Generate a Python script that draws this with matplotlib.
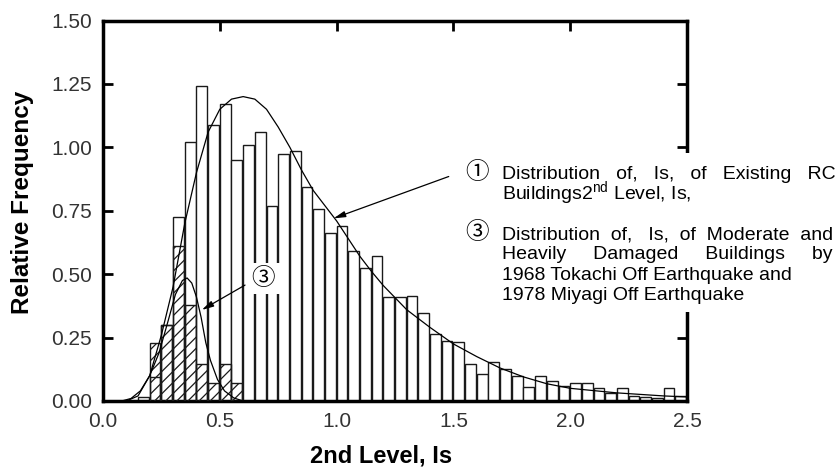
import matplotlib
matplotlib.use('Agg')
import matplotlib.pyplot as plt
from matplotlib.patches import Rectangle

plt.rcParams['font.family'] = ['Liberation Sans', 'Noto Sans CJK JP', 'DejaVu Sans']
plt.rcParams['mathtext.fontset'] = 'custom'
plt.rcParams['mathtext.rm'] = 'Liberation Sans'
plt.rcParams['mathtext.default'] = 'regular'
plt.rcParams['hatch.linewidth'] = 0.9

# Histograma de edificios existentes (inicio de cada intervalo, frecuencia)
bin_start = [0.15, 0.20, 0.25, 0.30, 0.35, 0.40, 0.45, 0.50, 0.55, 0.60,
             0.65, 0.70, 0.75, 0.80, 0.85, 0.90, 0.95, 1.00, 1.05, 1.10,
             1.15, 1.20, 1.25, 1.30, 1.35, 1.40, 1.45, 1.50, 1.55, 1.60,
             1.65, 1.70, 1.75, 1.80, 1.85, 1.90, 1.95, 2.00, 2.05, 2.10,
             2.15, 2.20, 2.25, 2.30, 2.35, 2.40, 2.45]
freq_existing = [0.017, 0.096, 0.30, 0.725, 1.02, 1.24, 1.09, 1.17, 0.95, 1.01,
                 1.06, 0.77, 0.975, 0.985, 0.845, 0.756, 0.661, 0.69, 0.59, 0.525,
                 0.57, 0.41, 0.41, 0.415, 0.345, 0.265, 0.238, 0.232, 0.145, 0.107,
                 0.153, 0.127, 0.10, 0.057, 0.10, 0.08, 0.06, 0.07, 0.07, 0.05,
                 0.03, 0.05, 0.02, 0.015, 0.013, 0.05, 0.02]

# Histograma de edificios dañados (rayado)
bin_damaged = [0.20, 0.25, 0.30, 0.35, 0.40, 0.45, 0.50, 0.55]
freq_damaged = [0.227, 0.30, 0.61, 0.38, 0.145, 0.07, 0.145, 0.07]

# Curvas ajustadas
curve1_x = [0.10, 0.15, 0.20, 0.25, 0.30, 0.35, 0.40, 0.45, 0.50, 0.55,
            0.60, 0.65, 0.70, 0.75, 0.80, 0.85, 0.90, 0.95, 1.00, 1.05,
            1.10, 1.15, 1.20, 1.30, 1.40, 1.50, 1.60, 1.70, 1.80, 1.90,
            2.00, 2.20, 2.40, 2.50]
curve1_y = [0.0, 0.02, 0.10, 0.26, 0.45, 0.70, 0.90, 1.06, 1.15, 1.19,
            1.20, 1.19, 1.15, 1.08, 1.00, 0.91, 0.83, 0.77, 0.71, 0.64,
            0.57, 0.51, 0.455, 0.36, 0.29, 0.225, 0.175, 0.13, 0.095, 0.068,
            0.05, 0.032, 0.02, 0.016]

curve3_x = [0.08, 0.12, 0.16, 0.20, 0.24, 0.28, 0.31, 0.34, 0.36, 0.38,
            0.40, 0.42, 0.44, 0.46, 0.49, 0.52, 0.56, 0.60]
curve3_y = [0.0, 0.01, 0.04, 0.10, 0.19, 0.32, 0.42, 0.475, 0.485, 0.465,
            0.41, 0.33, 0.23, 0.16, 0.085, 0.04, 0.012, 0.0]

xticks = [0.0, 0.5, 1.0, 1.5, 2.0, 2.5]
xtick_labels = ['0.0', '0.5', '1.0', '1.5', '2.0', '2.5']
yticks = [0.0, 0.25, 0.5, 0.75, 1.0, 1.25, 1.5]
ytick_labels = ['0.00', '0.25', '0.50', '0.75', '1.00', '1.25', '1.50']

W, H = 840, 471
fig = plt.figure(figsize=(W / 100, H / 100), dpi=100)
ax = fig.add_axes([103 / W, 70 / H, 584 / W, 380.5 / H])

ax.bar(bin_start, freq_existing, width=0.046, align='edge',
       facecolor='white', edgecolor='#1a1a1a', linewidth=1.0, zorder=2)
ax.bar(bin_damaged, freq_damaged, width=0.046, align='edge',
       facecolor='none', edgecolor='#1a1a1a', linewidth=1.0, hatch='///', zorder=3)

ax.plot(curve1_x, curve1_y, color='black', linewidth=0.9, zorder=4)
ax.plot(curve3_x, curve3_y, color='black', linewidth=0.9, zorder=4)

# Flechas
arrow = dict(arrowstyle='-|>,head_length=0.7,head_width=0.18', color='black',
             linewidth=0.9, shrinkA=0, shrinkB=0)
ax.annotate('', xy=(0.987, 0.72), xytext=(1.48, 0.885), arrowprops=arrow, zorder=5)
ax.annotate('', xy=(0.423, 0.359), xytext=(0.608, 0.457), arrowprops=arrow, zorder=5)
ax.text(0.687, 0.482, '③', fontsize=17, ha='center', va='center', zorder=6,
        bbox=dict(facecolor='white', edgecolor='none', pad=3))

ax.set_xlim(0, 2.5)
ax.set_ylim(0, 1.5)
ax.set_xticks(xticks)
ax.set_xticklabels(xtick_labels)
ax.set_yticks(yticks)
ax.set_yticklabels(ytick_labels)
ax.tick_params(direction='in', length=7, width=2, top=True, right=True,
               labelsize=15, labelcolor='#333333', pad=8)
for s in ax.spines.values():
    s.set_linewidth(2.5)

fig.text(23 / W, 1 - 202 / H, 'Relative Frequency', rotation=90, fontsize=17.5,
         fontweight='bold', ha='center', va='center')
fig.text(381 / W, 1 - 456 / H, '2nd Level, Is', fontsize=17,
         fontweight='bold', ha='center', va='center')

# Caja blanca que tapa el borde derecho bajo el texto
fig.add_artist(Rectangle((462 / W, 1 - 312 / H), (W - 462) / W, 159 / H,
                         transform=fig.transFigure, facecolor='white',
                         edgecolor='none', zorder=5))

renderer = fig.canvas.get_renderer()
x0, x1 = 502, 835
fs = 14


def text_width(s):
    t = fig.text(0, 0, s, fontsize=fs)
    w = t.get_window_extent(renderer).width
    t.remove()
    return w


def put_line(line, ybase, justify):
    if justify:
        # texto justificado: repartir espacios para llegar a x1
        words = line.split(' ')
        space = text_width('a a') - text_width('aa')
        extra = (x1 - x0 - text_width(line)) / space
        n = len(words) - 1
        out, done = words[0], 0
        for i, w in enumerate(words[1:], start=1):
            k = round(extra * i / n) - done
            done += k
            out += ' ' * (1 + k) + w
        line = out
    fig.text(x0 / W, 1 - ybase / H, line, fontsize=fs, va='baseline', zorder=6)


fig.text(477 / W, 1 - 179 / H, '①', fontsize=17, ha='center', va='baseline', zorder=6)
fig.text(477 / W, 1 - 239 / H, '③', fontsize=17, ha='center', va='baseline', zorder=6)
put_line('Distribution of, Is, of Existing RC', 179, True)
put_line('Buildings2$^{nd}$ Level, Is,', 199, False)
put_line('Distribution of, Is, of Moderate and', 239, True)
put_line('Heavily Damaged Buildings by', 259, True)
put_line('1968 Tokachi Off Earthquake and', 279.5, False)
put_line('1978 Miyagi Off Earthquake', 300, False)

fig.savefig('out.png', dpi=100)
